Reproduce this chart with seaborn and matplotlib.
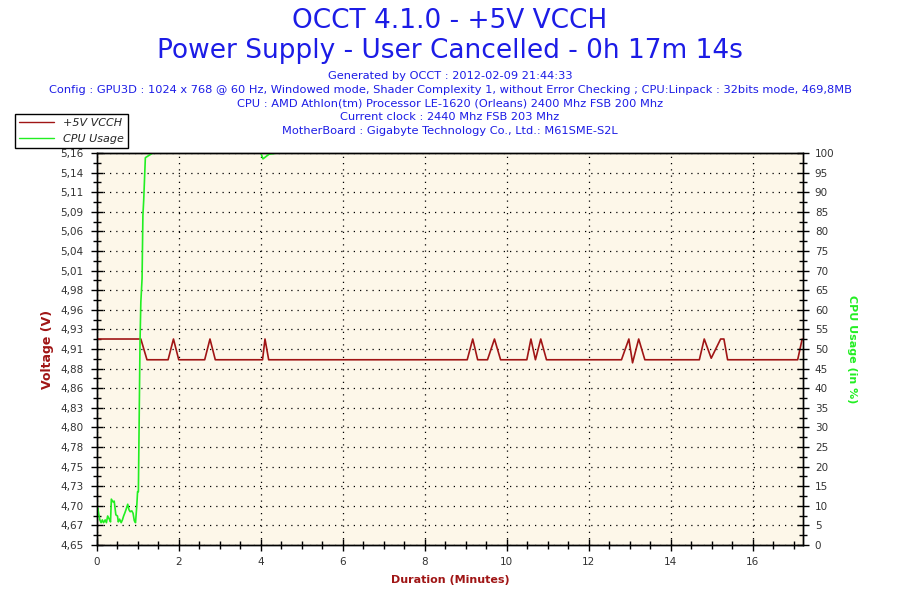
import numpy as np
import pandas as pd
import seaborn as sns
import matplotlib.pyplot as plt
from matplotlib.lines import Line2D
from matplotlib.ticker import MultipleLocator, AutoMinorLocator

# Voltage (+5V VCCH) breakpoints, minutes vs volts
volt_time = [0.0, 1.07, 1.22, 1.735, 1.866, 1.995, 2.628, 2.757, 2.887,
             4.04, 4.10, 4.19, 9.035, 9.17, 9.29, 9.53, 9.70, 9.85,
             10.49, 10.59, 10.70, 10.83, 10.97, 12.80, 12.98, 13.07, 13.22, 13.37,
             14.70, 14.82, 14.99, 15.22, 15.30, 15.39, 17.10, 17.21]
volt_val = [4.918, 4.918, 4.891, 4.891, 4.918, 4.891, 4.891, 4.918, 4.891,
            4.891, 4.918, 4.891, 4.891, 4.918, 4.891, 4.891, 4.918, 4.891,
            4.891, 4.918, 4.891, 4.918, 4.891, 4.891, 4.918, 4.887, 4.918, 4.891,
            4.891, 4.918, 4.893, 4.918, 4.918, 4.891, 4.891, 4.918]

# CPU usage samples, minutes vs percent
cpu_time = [0.00, 0.02, 0.05, 0.07, 0.10, 0.13, 0.16, 0.20, 0.23, 0.26, 0.30,
            0.33, 0.35, 0.39, 0.42, 0.46, 0.50, 0.52, 0.55, 0.59, 0.62, 0.65,
            0.68, 0.72, 0.75, 0.78, 0.81, 0.85, 0.88, 0.91, 0.94, 0.97, 0.99,
            1.01, 1.05, 1.07, 1.10, 1.12, 1.14, 1.18, 1.36, 4.00, 4.05, 4.20,
            4.40, 17.23]
cpu_val = [8.1, 9.4, 7.4, 6.4, 5.7, 6.4, 5.7, 6.4, 5.7, 7.4, 6.6,
           5.9, 11.7, 11.0, 11.2, 7.7, 7.4, 5.9, 6.6, 5.7, 6.4, 7.4,
           8.2, 9.4, 10.4, 9.0, 8.5, 8.7, 8.1, 6.2, 5.7, 9.8, 13.6,
           13.6, 52.0, 62.0, 68.0, 84.0, 88.0, 98.8, 100.0, 100.0, 98.5, 99.7,
           100.0, 100.0]

volt_ticklabels = ['4,65', '4,67', '4,70', '4,73', '4,75', '4,78', '4,80', '4,83',
                   '4,86', '4,88', '4,91', '4,93', '4,96', '4,98', '5,01', '5,04',
                   '5,06', '5,09', '5,11', '5,14', '5,16']

title_lines = ["OCCT 4.1.0 - +5V VCCH",
               "Power Supply - User Cancelled - 0h 17m 14s"]
info_lines = ["Generated by OCCT : 2012-02-09 21:44:33",
              "Config : GPU3D : 1024 x 768 @ 60 Hz, Windowed mode, Shader Complexity 1, "
              "without Error Checking ; CPU:Linpack : 32bits mode, 469,8MB",
              "CPU : AMD Athlon(tm) Processor LE-1620 (Orleans) 2400 Mhz FSB 200 Mhz",
              "Current clock : 2440 Mhz FSB 203 Mhz",
              "MotherBoard : Gigabyte Technology Co., Ltd.: M61SME-S2L"]

volt_df = pd.DataFrame({"t": volt_time, "v": volt_val})
cpu_df = pd.DataFrame({"t": cpu_time, "c": cpu_val})

sns.set_style("white")
plt.rcParams['font.family'] = ['DejaVu Sans']

RED = "#A01515"
GREEN = "#22EE22"
BLUE = "#1C1CE6"
TICK = "#333333"

fig = plt.figure(figsize=(9, 6), dpi=100)
ax = fig.add_axes([97 / 900, 1 - 545 / 600, 706 / 900, 392 / 600])
ax.set_facecolor("#FDF7E9")
ax2 = ax.twinx()

sns.lineplot(data=volt_df, x="t", y="v", ax=ax, color=RED, linewidth=1.2,
             estimator=None, zorder=3)
sns.lineplot(data=cpu_df, x="t", y="c", ax=ax2, color=GREEN, linewidth=1.2,
             estimator=None)

vmin, vmax = 4.65, 5.16
ax.set_xlim(0, 17.23)
ax.set_ylim(vmin, vmax)
ax.set_yticks(np.linspace(vmin, vmax, len(volt_ticklabels)))
ax.set_yticklabels(volt_ticklabels)
ax.yaxis.set_minor_locator(AutoMinorLocator(2))
ax.xaxis.set_major_locator(MultipleLocator(2))
ax.xaxis.set_minor_locator(MultipleLocator(0.5))
ax2.set_ylim(0, 100)
ax2.yaxis.set_major_locator(MultipleLocator(5))
ax2.yaxis.set_minor_locator(MultipleLocator(2.5))

ax.grid(True, which="major", color="black", linestyle=(0, (1, 4)), linewidth=0.9)
for a in (ax, ax2):
    a.tick_params(which="major", direction="inout", length=9, width=1,
                  labelsize=7.5, labelcolor=TICK, color="black")
    a.tick_params(which="minor", direction="inout", length=6, width=1, color="black")
    for s in a.spines.values():
        s.set_color("black")
        s.set_linewidth(1)
ax.tick_params(axis="y", left=True, right=False, pad=5)
ax.tick_params(axis="x", bottom=True, pad=4)
ax.tick_params(axis="y", which="minor", left=True)
ax.tick_params(axis="x", which="minor", bottom=True)
ax2.tick_params(axis="y", which="both", right=True, left=False, pad=4)
ax2.set_zorder(ax.get_zorder() + 1)
ax2.patch.set_visible(False)

ax.set_xlabel("Duration (Minutes)", color=RED, fontsize=8, fontweight="bold", labelpad=6)
ax.set_ylabel("Voltage (V)", color=RED, fontsize=9, fontweight="bold", labelpad=5)
ax2.set_ylabel("CPU Usage (in %)", color=GREEN, fontsize=8, fontweight="bold",
               rotation=-90, labelpad=16)

fig.text(0.5, 1 - 21 / 600, title_lines[0], ha="center", va="center",
         fontsize=19, color=BLUE)
fig.text(0.5, 1 - 51 / 600, title_lines[1], ha="center", va="center",
         fontsize=19, color=BLUE)
for i, line in enumerate(info_lines):
    fig.text(0.5, 1 - (76 + 13.8 * i) / 600, line, ha="center", va="center",
             fontsize=8.2, color=BLUE)

handles = [Line2D([], [], color=RED, lw=1), Line2D([], [], color=GREEN, lw=1)]
leg = fig.legend(handles, ["+5V VCCH", "CPU Usage"], loc="upper left",
                 bbox_to_anchor=(15 / 900, 1 - 114 / 600), fancybox=False,
                 framealpha=1, edgecolor="black", prop={"style": "italic", "size": 8},
                 handlelength=3.2, borderpad=0.35, labelspacing=0.55, borderaxespad=0)
leg.get_frame().set_linewidth(1)

fig.savefig("out.png", dpi=100)
